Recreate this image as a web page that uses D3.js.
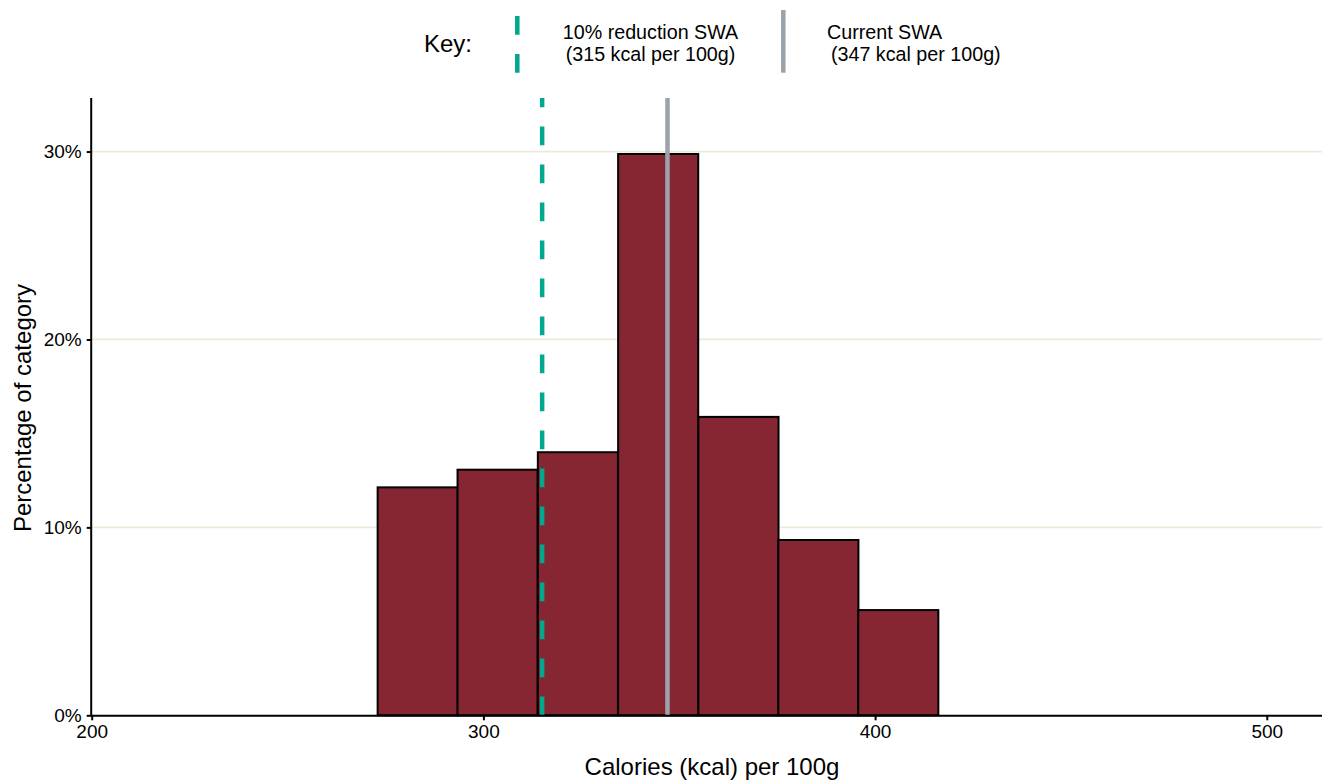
<!DOCTYPE html>
<html>
<head>
<meta charset="utf-8">
<script src="https://cdn.jsdelivr.net/npm/d3@7"></script>
<style>
  html, body { margin: 0; padding: 0; background: #ffffff; }
  svg text { font-family: "Liberation Sans", Arial, sans-serif; fill: #000; }
</style>
</head>
<body>
<svg id="chart" width="1324" height="780"></svg>
<script>
// ---- data ----
const binStarts = [273.0, 293.4, 313.9, 334.4, 354.9, 375.3, 395.7];
const binWidth = 20.45;
const binPercents = [12.13, 13.07, 14.0, 29.87, 15.88, 9.33, 5.6];
const xTicks = [200, 300, 400, 500];
const yTicks = [0, 10, 20, 30];
const refLines = [
  { name: "10% reduction SWA", label: "(315 kcal per 100g)", value: 315, dashed: true },
  { name: "Current SWA", label: "(347 kcal per 100g)", value: 347, dashed: false }
];
const xTitle = "Calories (kcal) per 100g";
const yTitle = "Percentage of category";

// ---- layout ----
const svg = d3.select("#chart");
const pLeft = 91.7, pRight = 1322, pTop = 98, pBottom = 715.3;
const x = d3.scaleLinear().domain([200, 514.1]).range([pLeft, pRight]);
const y = d3.scaleLinear().domain([0, 32.85]).range([pBottom, pTop]);

const barFill = "#862633";
const green = "#00a88f";
const grey = "#9aa2aa";

// gridlines
svg.append("g").selectAll("line").data(yTicks.filter(d => d > 0)).join("line")
  .attr("x1", pLeft).attr("x2", pRight)
  .attr("y1", d => y(d)).attr("y2", d => y(d))
  .attr("stroke", "#ebebdc").attr("stroke-width", 1.8);

// bars
svg.append("g").selectAll("rect").data(binStarts.map((s, i) => ({ s, p: binPercents[i] }))).join("rect")
  .attr("x", d => x(d.s))
  .attr("width", d => x(d.s + binWidth) - x(d.s))
  .attr("y", d => y(d.p))
  .attr("height", d => y(0) - y(d.p))
  .attr("fill", barFill)
  .attr("stroke", "#000").attr("stroke-width", 2);

// reference lines
svg.append("g").selectAll("line").data(refLines).join("line")
  .attr("x1", d => x(d.value)).attr("x2", d => x(d.value))
  .attr("y1", y(0)).attr("y2", pTop)
  .attr("stroke", d => d.dashed ? green : grey)
  .attr("stroke-width", 4.5)
  .attr("stroke-dasharray", d => d.dashed ? "18.7,19.3" : null);

// axes
const xAxis = svg.append("g").attr("transform", `translate(0,${pBottom})`)
  .call(d3.axisBottom(x).tickValues(xTicks).tickSize(5).tickPadding(4).tickFormat(d3.format("d")));
xAxis.select(".domain").attr("d", `M${pLeft},0.5H${pRight}`).attr("stroke", "#000").attr("stroke-width", 2);
xAxis.selectAll(".tick line").attr("stroke", "#000").attr("stroke-width", 2);
xAxis.selectAll(".tick text").attr("font-size", 19).attr("font-family", "Liberation Sans, Arial, sans-serif").attr("fill", "#000");

const yAxis = svg.append("g").attr("transform", `translate(${pLeft},0)`)
  .call(d3.axisLeft(y).tickValues(yTicks).tickSize(5).tickPadding(5).tickFormat(d => d + "%"));
yAxis.select(".domain").attr("d", `M-0.5,${pBottom}V${pTop}`).attr("stroke", "#000").attr("stroke-width", 2);
yAxis.selectAll(".tick line").attr("stroke", "#000").attr("stroke-width", 2);
yAxis.selectAll(".tick text").attr("font-size", 19).attr("font-family", "Liberation Sans, Arial, sans-serif").attr("fill", "#000");

// axis titles
svg.append("text").attr("x", 712).attr("y", 775).attr("text-anchor", "middle")
  .attr("font-size", 24).text(xTitle);
svg.append("text").attr("transform", "translate(30.5,408) rotate(-90)").attr("text-anchor", "middle")
  .attr("font-size", 24).text(yTitle);

// legend
const leg = svg.append("g");
leg.append("text").attr("x", 424).attr("y", 51.7).attr("font-size", 24).text("Key:");
leg.append("line").attr("x1", 517.3).attr("x2", 517.3).attr("y1", 72.7).attr("y2", 16)
  .attr("stroke", green).attr("stroke-width", 4.5).attr("stroke-dasharray", "18.7,19.3");
leg.append("line").attr("x1", 783.3).attr("x2", 783.3).attr("y1", 72.7).attr("y2", 10)
  .attr("stroke", grey).attr("stroke-width", 4.5);
leg.append("text").attr("x", 650.5).attr("y", 39.3).attr("text-anchor", "middle").attr("font-size", 19.7).text(refLines[0].name);
leg.append("text").attr("x", 650.5).attr("y", 61).attr("text-anchor", "middle").attr("font-size", 19.7).text(refLines[0].label);
leg.append("text").attr("x", 827).attr("y", 39.3).attr("font-size", 19.7).text(refLines[1].name);
leg.append("text").attr("x", 831).attr("y", 61).attr("font-size", 19.7).text(refLines[1].label);
</script>
</body>
</html>
